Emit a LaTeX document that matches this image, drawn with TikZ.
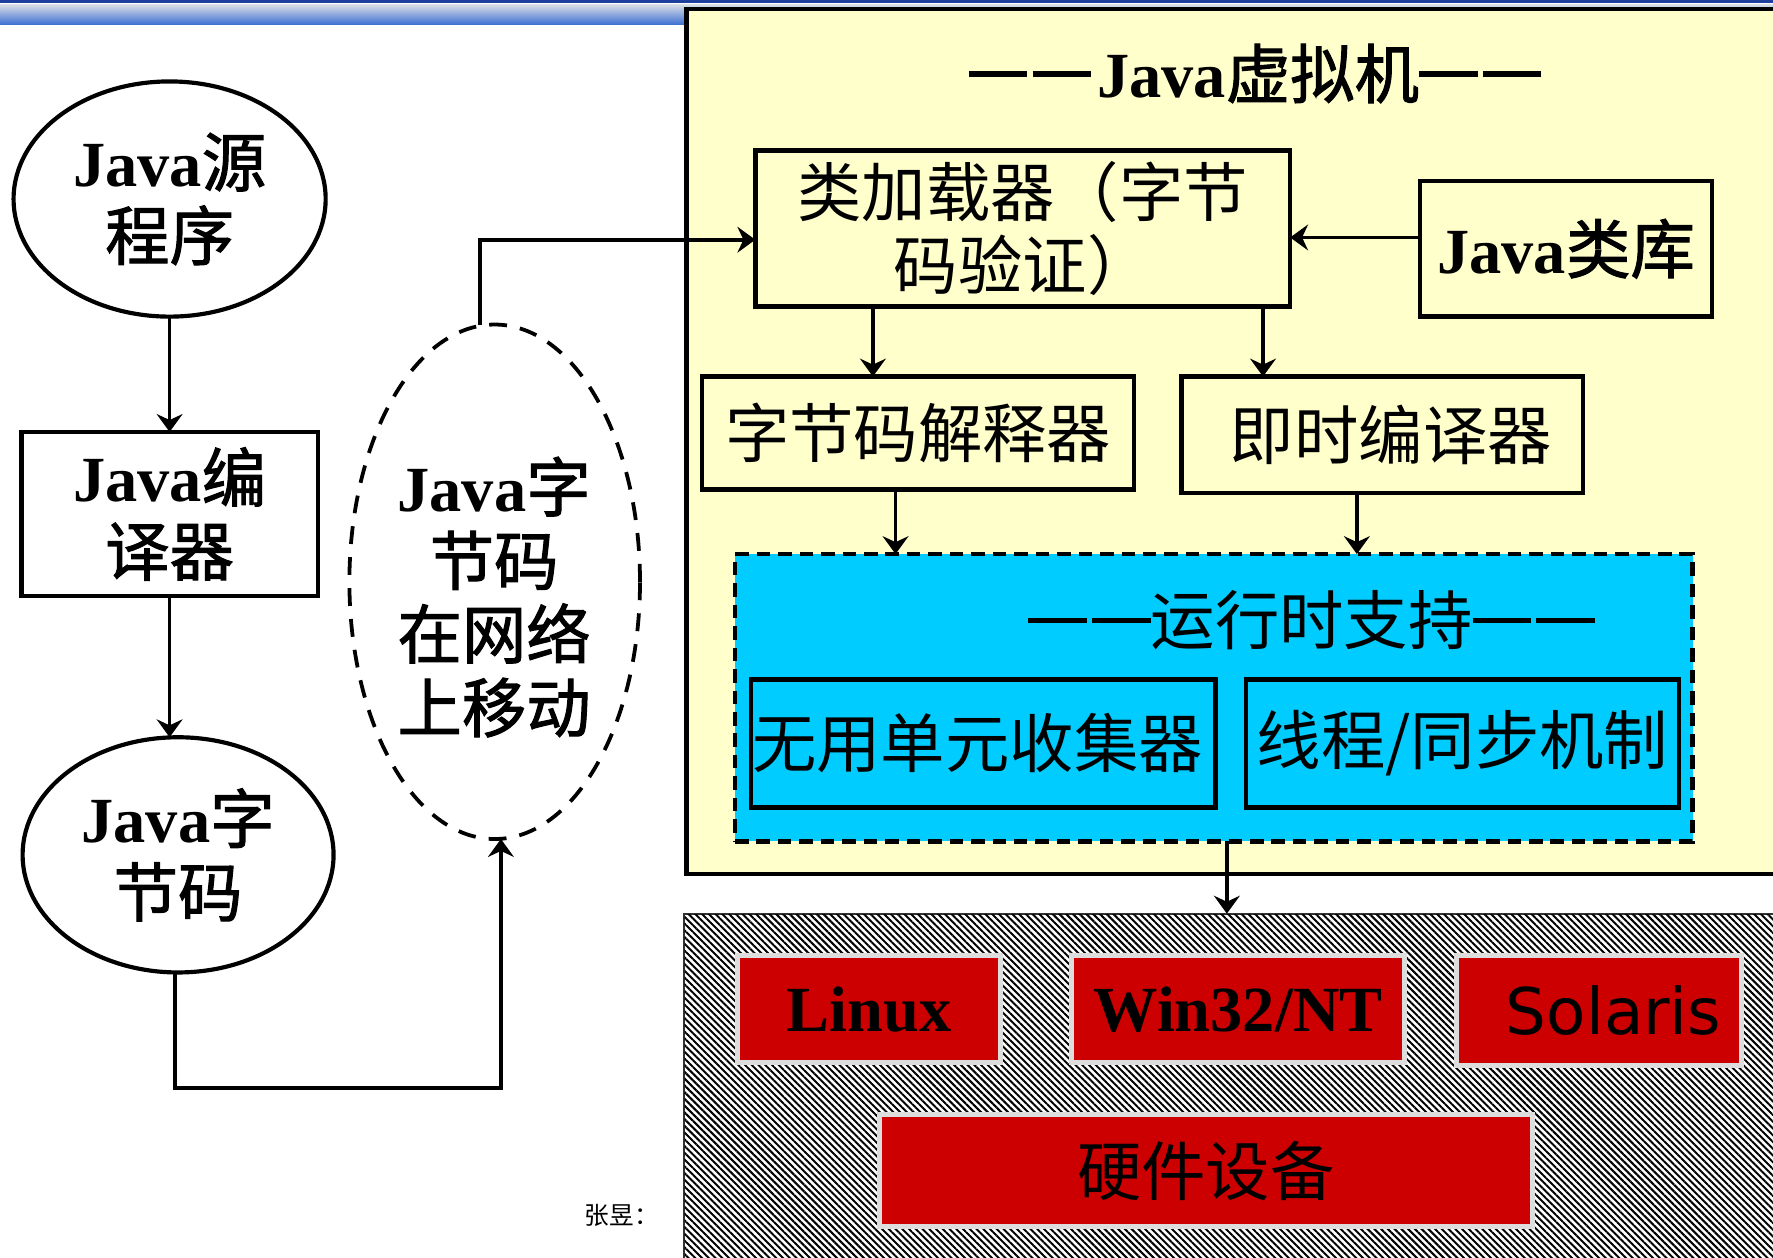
\documentclass[tikz,border=0pt]{standalone}
\usepackage{fontspec}
\setmainfont{Liberation Serif}
\newfontfamily\cjk{Noto Sans CJK SC}[BoldFont=*, BoldFeatures={FakeBold=1.6}]
\newfontfamily\verd{DejaVu Sans}
\usetikzlibrary{arrows.meta,patterns.meta,shapes.geometric}
\definecolor{jvmyellow}{HTML}{FFFFCC}
\definecolor{rtblue}{HTML}{00CCFF}
\definecolor{osred}{HTML}{CC0000}
\definecolor{osgray}{HTML}{DDDDDD}
\definecolor{bartop}{HTML}{D8DDE6}
\definecolor{barbot}{HTML}{3A6ED2}
\definecolor{barline}{HTML}{1F3F9F}
\newcommand{\zh}[1]{{\cjk #1}}
\newcommand{\dd}[1]{\rule[0.33em]{0.91em}{#1}\kern1.3pt\rule[0.33em]{0.91em}{#1}}
\begin{document}
\begin{tikzpicture}[x=0.1mm,y=-0.1mm,
  every node/.style={inner sep=0pt, outer sep=0pt},
  txt/.style={font=\fontsize{16.2}{18.5}\selectfont, align=center},
  txtb/.style={font=\fontsize{16.2}{18.5}\selectfont\bfseries, align=center},
  box/.style={draw, line width=1.1pt},
  ell/.style={ellipse, draw, line width=1.05pt},
  arr/.style={line width=0.95pt, -{Stealth[length=4.5pt,width=6.5pt,inset=1.5pt]}},
  osbox/.style={fill=osred, draw=osgray, line width=1.25pt},
]
\useasboundingbox (0,0) rectangle (1568,1112);
% top bar
\fill[barline] (0,0) rectangle (1568,2.5);
\shade[top color=bartop, middle color=bartop!75!barbot, bottom color=barbot] (0,4) rectangle (1568,22);
% JVM area
\draw[line width=1.2pt, fill=jvmyellow] (607,8) rectangle (1620,773);
% platform area
\node[draw=black!80, line width=0.5pt, fill=white, minimum width=101.5mm, minimum height=33mm] (plat) at (1112.5,973) {};
\fill[pattern={Lines[angle=-45,distance=1.2pt,line width=0.5pt]}] (605.5,808.5) rectangle (1620,1140);

% coordinates
\coordinate (ytop) at (0,212);
\coordinate (ylib) at (0,210);
\coordinate (ybot) at (0,962);
\coordinate (xa) at (772,0);
\coordinate (xb) at (1117,0);
\coordinate (xc) at (792,0);
\coordinate (xd) at (1200,0);
\coordinate (xe) at (1085,0);

% left column
\node[ell, txtb, minimum width=27.6mm, minimum height=20.8mm] (src) at (150,176) {Java\zh{源}\\\zh{程序}};
\node[box, txtb, minimum width=26.2mm, minimum height=14.5mm] (comp) at (150,454.5) {Java\zh{编}\\\zh{译器}};
\node[ell, txtb, minimum width=27.5mm, minimum height=20.8mm] (bc) at (157.5,756) {Java\zh{字}\\\zh{节码}};
\node[ell, dashed, dash pattern=on 4.5pt off 3.3pt, line width=0.95pt, minimum width=25.7mm, minimum height=45.5mm] (net) at (437.5,514.5) {};
\node[txtb] (nettext) at (437,528) {Java\zh{字}\\\zh{节码}\\\zh{在网络}\\\zh{上移动}};
\coordinate (netb) at ([xshift=0.55mm]net.south);
\coordinate (nett) at ([xshift=-1.3mm]net.north);
\coordinate (bcb) at ([xshift=-0.25mm]bc.south);

% JVM inner
\node[txtb] (jvmtitle) at (1110,65) {\dd{1.5pt}\kern1.5pt Java\zh{虚拟机}\dd{1.5pt}};
\node[box, txt, minimum width=47.3mm, minimum height=13.8mm] (cl) at (904.5,202) {\zh{类加载器（字节}\\\zh{码验证）}};
\node[box, txtb, minimum width=25.8mm, minimum height=12mm] (lib) at (1385,220) {Java\zh{类库}};
\node[box, txt, minimum width=38.2mm, minimum height=10mm] (interp) at (812,383) {\zh{字节码解释器}};
\node[box, txt, minimum width=35.5mm, minimum height=10.3mm] (jit) at (1222.5,384.5) {\hspace{1.5mm}\zh{即时编译器}};
\node[draw, fill=rtblue, line width=1.15pt, dash pattern=on 3.4pt off 2pt, minimum width=84.7mm, minimum height=25.4mm] (rt) at (1073.5,617) {};
\node[txt] (rttitle) at (1160,548) {\dd{1.2pt}\zh{运行时支持}\dd{1.2pt}};
\node[box, txt, minimum width=41.1mm, minimum height=11.3mm] (gc) at (869.5,657.5) {\zh{无用单元收集器}\hspace{1mm}};
\node[box, txt, minimum width=38.3mm, minimum height=11.3mm] (thr) at (1293.5,657.5) {\zh{线程/同步机制}};

% OS boxes
\node[osbox, txtb, minimum width=23.3mm, minimum height=9.5mm] (linux) at (768.5,892.5) {Linux};
\node[osbox, txtb, minimum width=29.4mm, minimum height=9.5mm] (win) at (1095,892.5) {Win32/NT};
\node[osbox, txt, minimum width=25.2mm, minimum height=9.7mm] (sol) at (1414,893.5) {\hspace{2.6mm}\verd Solaris};
\node[osbox, txt, minimum width=57.7mm, minimum height=9.9mm] (hw) at (1066.5,1035.5) {\zh{硬件设备}};
\node[font=\cjk\fontsize{6.2}{7}\selectfont] (author) at (550,1075) {张昱：};

% connectors
\draw[arr] (src.south) -- (comp.north);
\draw[arr] (comp.south) -- (comp.south |- bc.north);
\draw[arr] (bcb) |- (ybot -| netb) -- (netb);
\draw[arr] (nett) |- (cl.west |- ytop);
\draw[arr] (lib.west |- ylib) -- (cl.east |- ylib);
\draw[arr] (cl.south -| xa) -- (interp.north -| xa);
\draw[arr] (cl.south -| xb) -- (jit.north -| xb);
\draw[arr] (interp.south -| xc) -- (rt.north -| xc);
\draw[arr] (jit.south -| xd) -- (rt.north -| xd);
\draw[arr] (rt.south -| xe) -- (plat.north -| xe);
\end{tikzpicture}
\end{document}
